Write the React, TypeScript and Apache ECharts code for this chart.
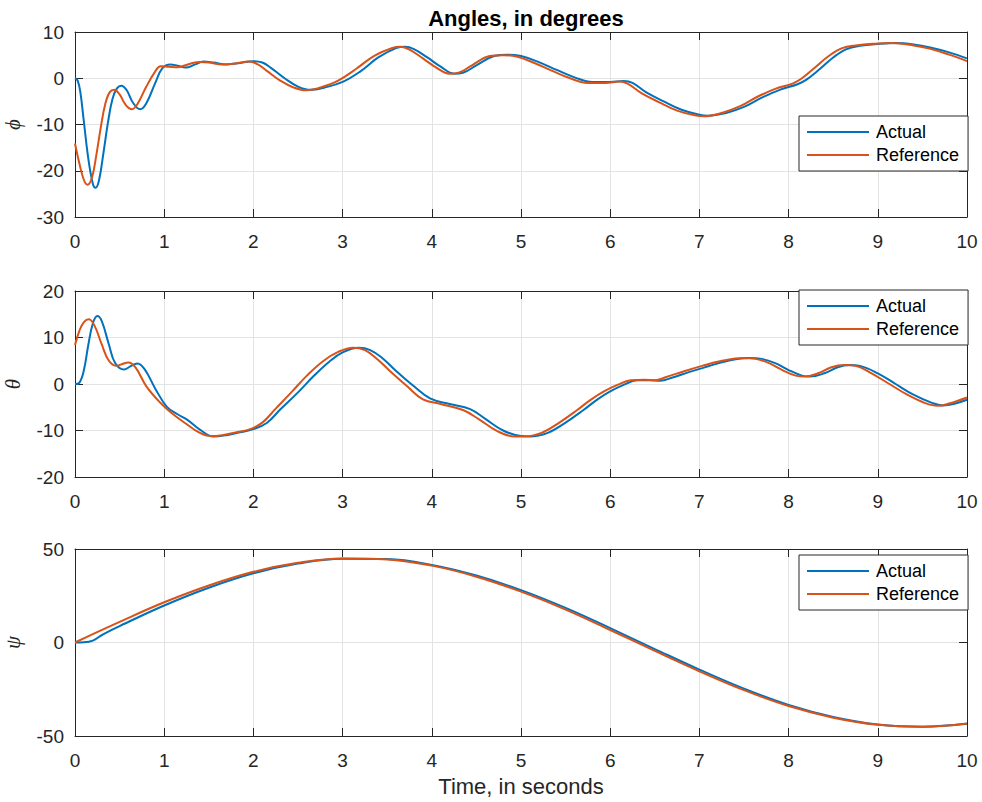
import React, { useEffect, useRef } from "react";
import * as echarts from "echarts";

// ---------- data (time in seconds, angle in degrees) ----------
const phiActual: number[][] = [
  [0, 0], [0.03, -0.5], [0.06, -3], [0.1, -9.5], [0.15, -17.5], [0.2, -22.8], [0.23, -23.7], [0.27, -22], [0.32, -16],
  [0.37, -9.5], [0.42, -4.5], [0.47, -2.2], [0.52, -1.6], [0.58, -2.6], [0.65, -5.3], [0.73, -6.7], [0.8, -5.4],
  [0.9, -1.0], [0.98, 2.2], [1.07, 3.0], [1.15, 2.7], [1.24, 2.3], [1.35, 3.0], [1.44, 3.6], [1.55, 3.4],
  [1.7, 3.0], [1.85, 3.3], [2.0, 3.7], [2.1, 3.4], [2.2, 2.2], [2.35, 0], [2.5, -1.8], [2.64, -2.5], [2.8, -2.0],
  [3.0, -0.8], [3.2, 1.5], [3.4, 4.5], [3.6, 6.5], [3.7, 6.8], [3.8, 6.3], [3.95, 4.5], [4.1, 2.5], [4.25, 1.0],
  [4.35, 1.2], [4.5, 2.8], [4.7, 4.8], [4.85, 5.1], [5.0, 4.8], [5.2, 3.5], [5.4, 1.8], [5.6, 0.2], [5.8, -0.8],
  [6.0, -0.8], [6.15, -0.6], [6.25, -1.0], [6.4, -3.0], [6.6, -5.0], [6.8, -6.8], [7.0, -7.9], [7.1, -8.1],
  [7.3, -7.5], [7.5, -6.2], [7.7, -4.2], [7.9, -2.5], [8.1, -1.3], [8.2, -0.3], [8.35, 2.0], [8.5, 4.5],
  [8.65, 6.3], [8.8, 7.0], [9.0, 7.4], [9.2, 7.6], [9.4, 7.3], [9.6, 6.6], [9.8, 5.6], [10, 4.3],
];
const phiReference: number[][] = [
  [0, -14.1], [0.05, -18.5], [0.1, -22], [0.14, -23], [0.19, -21.5], [0.24, -16.5], [0.29, -10.5], [0.34, -5.5],
  [0.39, -3.0], [0.44, -2.5], [0.5, -3.5], [0.57, -5.8], [0.64, -6.7], [0.7, -5.6], [0.8, -1.8], [0.9, 1.5],
  [0.96, 2.6], [1.05, 2.5], [1.15, 2.4], [1.3, 3.2], [1.4, 3.5], [1.5, 3.4], [1.65, 3.0], [1.8, 3.2], [1.95, 3.6],
  [2.05, 3.0], [2.15, 1.6], [2.3, -0.5], [2.45, -2.0], [2.6, -2.6], [2.75, -2.0], [2.95, -0.5], [3.15, 2.0],
  [3.35, 4.8], [3.55, 6.5], [3.65, 6.8], [3.75, 6.2], [3.9, 4.3], [4.05, 2.3], [4.2, 1.0], [4.3, 1.2],
  [4.45, 2.8], [4.65, 4.8], [4.8, 5.0], [4.95, 4.7], [5.15, 3.3], [5.35, 1.6], [5.55, 0.0], [5.75, -1.0],
  [5.95, -1.0], [6.1, -0.7], [6.2, -1.2], [6.35, -3.2], [6.55, -5.2], [6.75, -7.0], [6.95, -8.0], [7.05, -8.2],
  [7.25, -7.5], [7.45, -6.1], [7.65, -4.0], [7.85, -2.3], [8.05, -1.1], [8.15, 0], [8.3, 2.4], [8.45, 4.8],
  [8.6, 6.5], [8.75, 7.1], [9.0, 7.5], [9.15, 7.6], [9.4, 7.1], [9.6, 6.3], [9.8, 5.1], [10, 3.7],
];
const thetaActual: number[][] = [
  [0, 0], [0.05, 0.3], [0.1, 3], [0.15, 8.5], [0.2, 13], [0.25, 14.6], [0.3, 13.5], [0.38, 8.5], [0.45, 4.5],
  [0.55, 3.1], [0.62, 3.8], [0.7, 4.4], [0.78, 3.2], [0.9, -1], [1.03, -4.9], [1.15, -6.5], [1.26, -7.7],
  [1.4, -9.8], [1.55, -11.3], [1.7, -11.0], [1.85, -10.4], [2.0, -9.7], [2.15, -8.4], [2.3, -5.5], [2.5, -1.8],
  [2.67, 1.6], [2.85, 4.8], [3.0, 6.8], [3.18, 7.8], [3.31, 7.3], [3.45, 5.5], [3.6, 2.8], [3.8, -0.5],
  [3.98, -3.1], [4.2, -4.3], [4.43, -5.4], [4.6, -7.5], [4.8, -10.0], [5.0, -11.2], [5.1, -11.3], [5.3, -10.5],
  [5.5, -8.3], [5.7, -5.6], [5.85, -3.4], [6.0, -1.6], [6.15, -0.2], [6.3, 0.8], [6.45, 0.8], [6.56, 0.7],
  [6.7, 1.4], [6.89, 2.6], [7.1, 3.8], [7.3, 4.9], [7.56, 5.6], [7.7, 5.4], [7.85, 4.5], [8.0, 3.0],
  [8.15, 1.8], [8.24, 1.6], [8.4, 2.3], [8.55, 3.6], [8.68, 4.1], [8.8, 3.9], [9.0, 2.3], [9.2, 0],
  [9.4, -2.3], [9.6, -4.0], [9.73, -4.6], [9.85, -4.3], [10, -3.4],
];
const thetaReference: number[][] = [
  [0, 8.4], [0.05, 11.5], [0.1, 13.3], [0.155, 13.9], [0.22, 12.5], [0.3, 8.5], [0.38, 5.0], [0.47, 3.9],
  [0.53, 4.3], [0.6, 4.6], [0.68, 3.5], [0.8, -0.5], [0.96, -4.1], [1.1, -6.5], [1.25, -8.6], [1.38, -10.3],
  [1.52, -11.2], [1.65, -11.0], [1.8, -10.4], [1.95, -9.8], [2.1, -8.3], [2.25, -5.3], [2.43, -1.7], [2.6, 1.8],
  [2.78, 4.9], [2.95, 6.9], [3.12, 7.8], [3.25, 7.3], [3.38, 5.5], [3.53, 2.8], [3.73, -0.6], [3.9, -3.3],
  [4.1, -4.3], [4.35, -5.6], [4.53, -7.6], [4.73, -10.1], [4.93, -11.3], [5.03, -11.3], [5.23, -10.5],
  [5.43, -8.3], [5.63, -5.6], [5.78, -3.4], [5.93, -1.6], [6.08, -0.2], [6.23, 0.8], [6.38, 0.9], [6.5, 0.8],
  [6.63, 1.5], [6.82, 2.7], [7.03, 3.9], [7.23, 4.9], [7.5, 5.6], [7.63, 5.4], [7.78, 4.5], [7.93, 3.0],
  [8.08, 1.8], [8.18, 1.6], [8.33, 2.3], [8.48, 3.6], [8.62, 4.1], [8.75, 3.9], [8.93, 2.3], [9.13, 0],
  [9.33, -2.3], [9.53, -4.1], [9.67, -4.7], [9.8, -4.2], [10, -2.9],
];
const psiActual: number[][] = [
  [0, 0], [0.1, 0.1], [0.2, 1.0], [0.3, 4.0], [0.4, 6.5], [0.5, 8.8], [1, 19.8], [1.5, 29.3], [2, 37.0],
  [2.5, 42.2], [3, 44.8], [3.5, 44.6], [4, 41.5], [4.5, 35.8], [5, 28.0], [5.5, 18.5], [6, 7.7], [6.5, -3.5],
  [7, -14.5], [7.5, -24.7], [8, -33.4], [8.5, -39.8], [9, -43.8], [9.5, -45.0], [10, -43.5],
];
const psiReference: number[][] = [
  [0, 0], [0.5, 11.0], [1, 21.5], [1.5, 30.5], [2, 37.8], [2.5, 42.6], [3, 44.9], [3.5, 44.4], [4, 41.1],
  [4.5, 35.2], [5, 27.2], [5.5, 17.6], [6, 6.7], [6.5, -4.5], [7, -15.4], [7.5, -25.5], [8, -34.0],
  [8.5, -40.2], [9, -44.0], [9.5, -45.0], [10, -43.3],
];

const seriesNames = ["Actual", "Reference"];
const yNames = ["\u03D5", "\u03B8", "\u03C8"];
const yRanges = [
  { min: -30, max: 10, interval: 10 },
  { min: -20, max: 20, interval: 10 },
  { min: -50, max: 50, interval: 50 },
];
const xRange = { min: 0, max: 10, interval: 1 };
const titleText = "Angles, in degrees";
const xLabelText = "Time, in seconds";

const BLUE = "#0072BD";
const ORANGE = "#D95319";
const AX = "#262626";
const GRIDC = "#e3e3e3";
const FONT = "'Liberation Sans', Arial, Helvetica, sans-serif";

export default function App() {
  const ref = useRef<HTMLDivElement>(null);
  useEffect(() => {
    if (!ref.current) return;
    const chart = echarts.init(ref.current, null, { renderer: "svg" });
    const grids = [
      { left: 75, right: 15, top: 32, height: 185, outerBoundsMode: "none", containLabel: false },
      { left: 75, right: 15, top: 291, height: 186, outerBoundsMode: "none", containLabel: false },
      { left: 75, right: 15, top: 549, height: 187, outerBoundsMode: "none", containLabel: false },
    ];
    const legendTops = [116, 290, 555];
    const data = [
      [phiActual, phiReference],
      [thetaActual, thetaReference],
      [psiActual, psiReference],
    ];
    const xAxes: any[] = [];
    const yAxes: any[] = [];
    for (let i = 0; i < 3; i++) {
      xAxes.push({
        type: "value", gridIndex: i, ...xRange, position: "bottom",
        axisLine: { show: true, onZero: false, lineStyle: { color: AX, width: 1 } },
        axisTick: { show: true, inside: true, length: 8, lineStyle: { color: AX } },
        axisLabel: { show: true, margin: 15, fontSize: 19, color: AX, fontFamily: FONT },
        splitLine: { show: true, lineStyle: { color: GRIDC, width: 1 } },
      });
      yAxes.push({
        type: "value", gridIndex: i, ...yRanges[i], position: "left",
        name: yNames[i], nameLocation: "middle", nameGap: 52, nameRotate: 90,
        nameTextStyle: { fontSize: 21, fontStyle: "italic", fontFamily: "'Liberation Serif', 'DejaVu Serif', serif", color: AX },
        axisLine: { show: true, onZero: false, lineStyle: { color: AX, width: 1 } },
        axisTick: { show: true, inside: true, length: 8, lineStyle: { color: AX } },
        axisLabel: { show: true, margin: 11, fontSize: 19, color: AX, fontFamily: FONT },
        splitLine: { show: true, lineStyle: { color: GRIDC, width: 1 } },
      });
    }
    for (let i = 0; i < 3; i++) {
      xAxes.push({
        type: "value", gridIndex: i, ...xRange, position: "top",
        axisLine: { show: true, onZero: false, lineStyle: { color: AX, width: 1 } },
        axisTick: { show: true, inside: true, length: 8, lineStyle: { color: AX } },
        axisLabel: { show: false }, splitLine: { show: false },
      });
      yAxes.push({
        type: "value", gridIndex: i, ...yRanges[i], position: "right",
        axisLine: { show: true, onZero: false, lineStyle: { color: AX, width: 1 } },
        axisTick: { show: true, inside: true, length: 8, lineStyle: { color: AX } },
        axisLabel: { show: false }, splitLine: { show: false },
      });
    }
    const series: any[] = [];
    for (let i = 0; i < 3; i++) {
      for (let j = 0; j < 2; j++) {
        series.push({
          type: "line", name: seriesNames[j], xAxisIndex: i, yAxisIndex: i,
          data: data[i][j], showSymbol: false, smooth: 0.4,
          lineStyle: { color: j === 0 ? BLUE : ORANGE, width: 2 },
          itemStyle: { color: j === 0 ? BLUE : ORANGE },
          z: j === 0 ? 3 : 4,
        });
      }
    }
    const legends = legendTops.map((top) => ({
      show: true, orient: "vertical", left: 799, top,
      data: seriesNames, icon: "rect", itemWidth: 62, itemHeight: 2, itemGap: 5,
      padding: [7, 9, 7, 8], backgroundColor: "#fff", borderColor: AX, borderWidth: 1,
      textStyle: { fontSize: 18, color: "#000", fontFamily: FONT, padding: [0, 0, 0, 2] },
      selectedMode: false, z: 10,
    }));
    chart.setOption({
      animation: false,
      backgroundColor: "#fff",
      title: {
        text: titleText, left: 521, top: 2, textAlign: "center",
        textStyle: { fontSize: 22, fontWeight: "bold", color: "#000", fontFamily: FONT },
      },
      grid: grids,
      xAxis: xAxes,
      yAxis: yAxes,
      legend: legends,
      series,
      graphic: [
        {
          type: "text", x: 521, y: 786,
          style: { text: xLabelText, fontSize: 22, fill: AX, fontFamily: FONT, align: "center", verticalAlign: "middle" },
        },
      ],
    });
    return () => chart.dispose();
  }, []);
  return <div ref={ref} style={{ position: "absolute", left: 0, top: 0, width: 982, height: 802 }} />;
}
